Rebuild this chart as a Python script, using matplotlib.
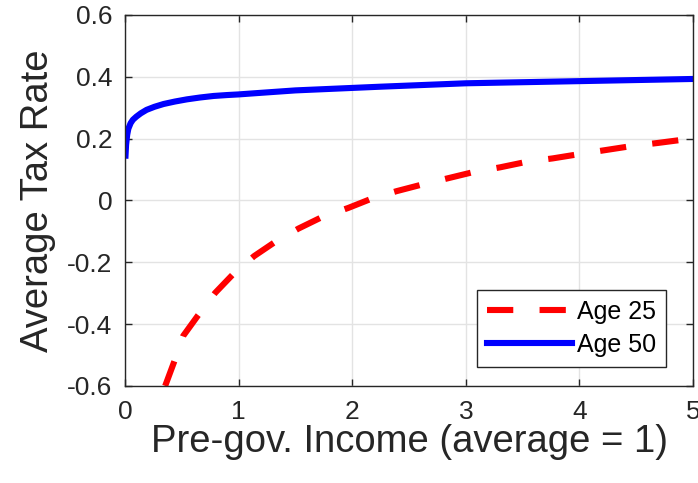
import matplotlib
matplotlib.use("Agg")
import matplotlib.pyplot as plt

plt.rcParams['font.family'] = ['Liberation Sans', 'DejaVu Sans']

# Age 25 average tax rate vs pre-government income
x_age25 = [0.354, 0.433, 0.513, 0.645, 0.794, 0.948, 1.137, 1.322, 1.527, 1.733,
           1.967, 2.172, 2.39, 2.62, 2.845, 3.08, 3.30, 3.535, 3.764, 4.0,
           4.23, 4.46, 4.69, 4.92, 5.0]
y_age25 = [-0.600, -0.522, -0.438, -0.371, -0.299, -0.240, -0.180, -0.134, -0.091, -0.054,
           -0.024, 0.006, 0.030, 0.052, 0.072, 0.093, 0.107, 0.125, 0.136, 0.150,
           0.163, 0.176, 0.186, 0.197, 0.200]

# Age 50 average tax rate
x_age50 = [0.005, 0.01, 0.02, 0.03, 0.05, 0.07, 0.10, 0.14, 0.19, 0.26,
           0.34, 0.44, 0.545, 0.66, 0.78, 0.9, 1.0, 1.19, 1.5, 2.0,
           2.25, 3.0, 4.0, 5.0]
y_age50 = [0.145, 0.18, 0.213, 0.232, 0.250, 0.261, 0.271, 0.282, 0.293, 0.303,
           0.312, 0.320, 0.327, 0.333, 0.338, 0.341, 0.343, 0.348, 0.356, 0.364,
           0.368, 0.379, 0.386, 0.393]

xticks = [0, 1, 2, 3, 4, 5]
yticks = [-0.6, -0.4, -0.2, 0, 0.2, 0.4, 0.6]
ytick_labels = ['-0.6', '-0.4', '-0.2', '0', '0.2', '0.4', '0.6']

fig = plt.figure(figsize=(6.98, 4.83), dpi=100)
ax = fig.add_axes([0.179, 0.201, 0.814, 0.768])

ax.plot(x_age25, y_age25, color='red', lw=4.4, linestyle=(0, (4.3, 4.3)),
        label='Age 25')
ax.plot(x_age50, y_age50, color='blue', lw=4.4, label='Age 50')

ax.set_xlim(0, 5)
ax.set_ylim(-0.6, 0.6)
ax.set_xticks(xticks)
ax.set_yticks(yticks)
ax.set_yticklabels(ytick_labels)

ax.grid(True, color='#e3e3e3', lw=1)
ax.set_axisbelow(True)
ax.tick_params(direction='in', top=True, right=True, length=5, width=1,
               color='#262626', labelcolor='#262626', labelsize=19)
ax.tick_params(axis='x', pad=10)
ax.tick_params(axis='y', pad=9)
for s in ax.spines.values():
    s.set_color('#262626')
    s.set_linewidth(1)

ax.set_xlabel('Pre-gov. Income (average = 1)', fontsize=27.5, color='#262626',
              labelpad=0)
ax.set_ylabel('Average Tax Rate', fontsize=27.5, color='#262626', labelpad=8)

leg = ax.legend(loc='lower right', bbox_to_anchor=(0.952, 0.051),
                borderaxespad=0, fontsize=18, fancybox=False, framealpha=1,
                edgecolor='#262626', handlelength=3.4, handletextpad=0.2,
                labelspacing=0.35, borderpad=0.4)
leg.get_frame().set_linewidth(1)

fig.savefig('out.png', dpi=100)
